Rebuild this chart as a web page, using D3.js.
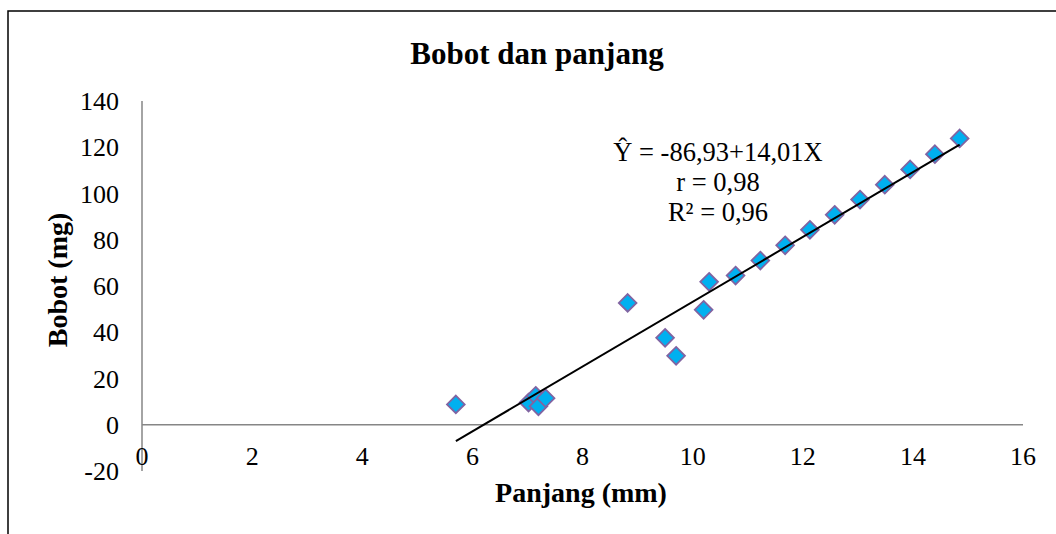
<!DOCTYPE html>
<html>
<head>
<meta charset="utf-8">
<script src="https://cdn.jsdelivr.net/npm/d3@7"></script>
<style>
  body { margin: 0; background: #fff; }
  text { font-family: "Liberation Serif", "Times New Roman", serif; }
</style>
</head>
<body>
<script>
// panjang (mm) and bobot (mg)
const panjang = [5.7, 7.02, 7.15, 7.2, 7.33, 8.82, 9.5, 9.7, 10.2, 10.3, 10.78, 11.23, 11.68, 12.13, 12.58, 13.04, 13.49, 13.95, 14.4, 14.85]
const bobot = [8.8, 9.6, 12.5, 8.0, 11.5, 52.7, 37.6, 29.8, 49.7, 61.8, 64.5, 71.0, 77.6, 84.3, 90.8, 97.4, 103.8, 110.4, 117.0, 123.8]
const xTicks = [0, 2, 4, 6, 8, 10, 12, 14, 16]
const yTicks = [-20, 0, 20, 40, 60, 80, 100, 120, 140]
const intercept = -86.93
const slope = 14.01
const eqLines = ['Ŷ = -86,93+14,01X', 'r = 0,98', 'R² = 0,96']

const w = 1056
const h = 534

const svg = d3.select('body')
    .append('svg')
    .attr('width', w)
    .attr('height', h)

// outer frame (runs off the right and bottom edge)
svg.append('rect')
    .attr('x', 8)
    .attr('y', 11)
    .attr('width', w + 20)
    .attr('height', h + 20)
    .attr('fill', 'none')
    .attr('stroke', '#000')
    .attr('stroke-width', 1.5)

const xScale = d3.scaleLinear().domain([0, 16]).range([142, 1023])
const yScale = d3.scaleLinear().domain([-20, 140]).range([471, 101])

// axes
svg.append('line')
    .attr('x1', xScale(0)).attr('x2', xScale(0))
    .attr('y1', yScale(-20)).attr('y2', yScale(140))
    .attr('stroke', '#868686').attr('stroke-width', 1.5)
svg.append('line')
    .attr('x1', xScale(0)).attr('x2', xScale(16))
    .attr('y1', yScale(0)).attr('y2', yScale(0))
    .attr('stroke', '#868686').attr('stroke-width', 1.5)

svg.selectAll('.ylab')
    .data(yTicks)
    .enter()
    .append('text')
    .attr('class', 'ylab')
    .attr('x', 119)
    .attr('y', d => yScale(d) + 9)
    .attr('text-anchor', 'end')
    .attr('font-size', 26)
    .text(d => d)

svg.selectAll('.xlab')
    .data(xTicks)
    .enter()
    .append('text')
    .attr('class', 'xlab')
    .attr('x', d => xScale(d))
    .attr('y', 465)
    .attr('text-anchor', 'middle')
    .attr('font-size', 26)
    .text(d => d)

// titles
svg.append('text')
    .attr('x', 537).attr('y', 64)
    .attr('text-anchor', 'middle')
    .attr('font-size', 31).attr('font-weight', 'bold')
    .text('Bobot dan panjang')
svg.append('text')
    .attr('x', 581).attr('y', 502)
    .attr('text-anchor', 'middle')
    .attr('font-size', 28).attr('font-weight', 'bold')
    .text('Panjang (mm)')
svg.append('text')
    .attr('transform', 'translate(67,280) rotate(-90)')
    .attr('text-anchor', 'middle')
    .attr('font-size', 28).attr('font-weight', 'bold')
    .text('Bobot (mg)')

// markers
const diamond = d3.symbol().type(d3.symbolDiamond2).size(200)
svg.selectAll('.pt')
    .data(panjang)
    .enter()
    .append('path')
    .attr('class', 'pt')
    .attr('d', diamond)
    .attr('transform', (d, i) => `translate(${xScale(d)},${yScale(bobot[i])})`)
    .attr('fill', '#00B0F0')
    .attr('stroke', '#8064A2')
    .attr('stroke-width', 1.8)

// linear trendline over the data range
const xMin = d3.min(panjang)
const xMax = d3.max(panjang)
svg.append('line')
    .attr('x1', xScale(xMin)).attr('y1', yScale(intercept + slope * xMin))
    .attr('x2', xScale(xMax)).attr('y2', yScale(intercept + slope * xMax))
    .attr('stroke', '#000').attr('stroke-width', 2)

svg.selectAll('.eq')
    .data(eqLines)
    .enter()
    .append('text')
    .attr('class', 'eq')
    .attr('x', 718)
    .attr('y', (d, i) => 161 + i * 30)
    .attr('text-anchor', 'middle')
    .attr('font-size', 26.5)
    .text(d => d)
</script>
</body>
</html>
